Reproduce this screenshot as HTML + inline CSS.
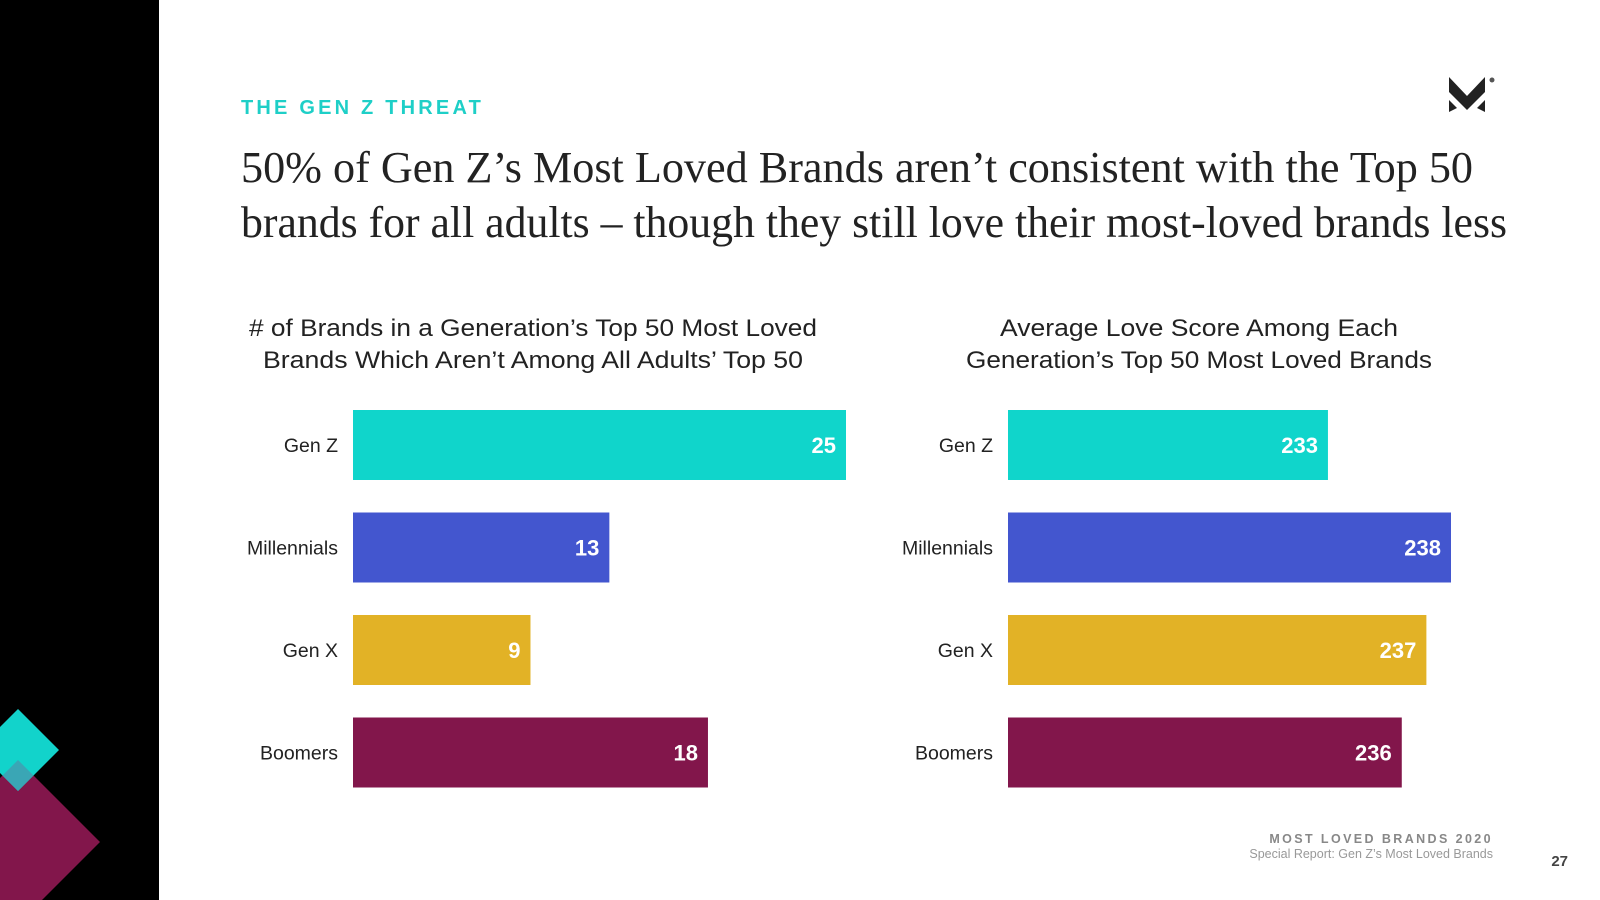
<!DOCTYPE html>
<html><head><meta charset="utf-8"><style>
html,body{margin:0;padding:0;background:#fff;}
svg{display:block;font-family:"Liberation Sans",sans-serif;}
</style></head><body>
<svg id="chart" width="1600" height="900" viewBox="0 0 1600 900" xmlns="http://www.w3.org/2000/svg">
  <rect x="0" y="0" width="159" height="900" fill="#000"/>
  <g>
    <polygon points="18,760 100,842 18,924 -64,842" fill="#82164b"/>
    <polygon points="18,709 59,750 18,791 -23,750" fill="#12d3cb"/>
    <clipPath id="cp"><polygon points="18,709 59,750 18,791 -23,750"/></clipPath>
    <polygon points="18,760 49,791 18,822 -13,791" fill="#3aa6b5" clip-path="url(#cp)"/>
  </g>
  <text x="241" y="114" font-size="20" font-weight="bold" fill="#1ecfc7" letter-spacing="3.2">THE GEN Z THREAT</text>
  <text x="241" y="182" font-size="44" fill="#222" font-family="Liberation Serif,serif" textLength="1232" lengthAdjust="spacingAndGlyphs">50% of Gen Z’s Most Loved Brands aren’t consistent with the Top 50</text>
  <text x="241" y="237" font-size="44" fill="#222" font-family="Liberation Serif,serif" textLength="1266" lengthAdjust="spacingAndGlyphs">brands for all adults – though they still love their most-loved brands less</text>
  <g>
    <polygon points="1449,77 1467,96 1485,77 1485,92 1467,110 1449,92" fill="#222"/>
    <polygon points="1449,100 1457,108 1449,112" fill="#222"/>
    <polygon points="1485,100 1477,108 1485,112" fill="#222"/>
    <circle cx="1492" cy="80" r="2.5" fill="#555"/>
  </g>
  <text x="533" y="336" font-size="24" fill="#222" text-anchor="middle" textLength="568" lengthAdjust="spacingAndGlyphs"># of Brands in a Generation’s Top 50 Most Loved</text>
  <text x="533" y="368" font-size="24" fill="#222" text-anchor="middle" textLength="540" lengthAdjust="spacingAndGlyphs">Brands Which Aren’t Among All Adults’ Top 50</text>
  <text x="1199" y="336" font-size="24" fill="#222" text-anchor="middle" textLength="398" lengthAdjust="spacingAndGlyphs">Average Love Score Among Each</text>
  <text x="1199" y="368" font-size="24" fill="#222" text-anchor="middle" textLength="466" lengthAdjust="spacingAndGlyphs">Generation’s Top 50 Most Loved Brands</text>
  <g id="left-bars"></g>
  <g id="right-bars"></g>
  <text x="1493" y="843" font-size="12.5" font-weight="bold" fill="#888" text-anchor="end" letter-spacing="2.4">MOST LOVED BRANDS 2020</text>
  <text x="1493" y="858" font-size="12.5" fill="#999" text-anchor="end">Special Report: Gen Z’s Most Loved Brands</text>
  <text x="1568" y="866" font-size="15" font-weight="bold" fill="#444" text-anchor="end">27</text>
</svg>
<script>
const categories = ["Gen Z", "Millennials", "Gen X", "Boomers"];
const brandCounts = [25, 13, 9, 18];
const loveScores = [233, 238, 237, 236];
const leftDomain = [0, 25];
const rightDomain = [220, 238];
const colors = ["#10d5cb", "#4356cf", "#e2b226", "#82164b"];
const NS = "http://www.w3.org/2000/svg";
function yRow(i){ return 410 + i * 102.5; }
function draw(gid, values, domain, x0, pxRange, prefix){
  const g = document.getElementById(gid);
  const sx = v => (v - domain[0]) / (domain[1] - domain[0]) * pxRange;
  categories.forEach((c, i) => {
    const y = yRow(i);
    const w = sx(values[i]);
    const r = document.createElementNS(NS, "rect");
    r.setAttribute("x", x0); r.setAttribute("y", y);
    r.setAttribute("width", w); r.setAttribute("height", 70);
    r.setAttribute("fill", colors[i]);
    
    
    g.appendChild(r);
    const l = document.createElementNS(NS, "text");
    l.setAttribute("x", x0 - 15); l.setAttribute("y", y + 42);
    l.setAttribute("font-size", "19.5"); l.setAttribute("fill", "#222");
    l.setAttribute("text-anchor", "end");
    l.textContent = c;
    
    
    g.appendChild(l);
    const v = document.createElementNS(NS, "text");
    v.setAttribute("x", x0 + w - 10); v.setAttribute("y", y + 43);
    v.setAttribute("font-size", "22"); v.setAttribute("font-weight", "bold");
    v.setAttribute("fill", "#fff"); v.setAttribute("text-anchor", "end");
    v.textContent = values[i];
    
    
    g.appendChild(v);
  });
}
draw("left-bars", brandCounts, leftDomain, 353, 493, "left");
draw("right-bars", loveScores, rightDomain, 1008, 443, "right");
</script>
</body></html>
